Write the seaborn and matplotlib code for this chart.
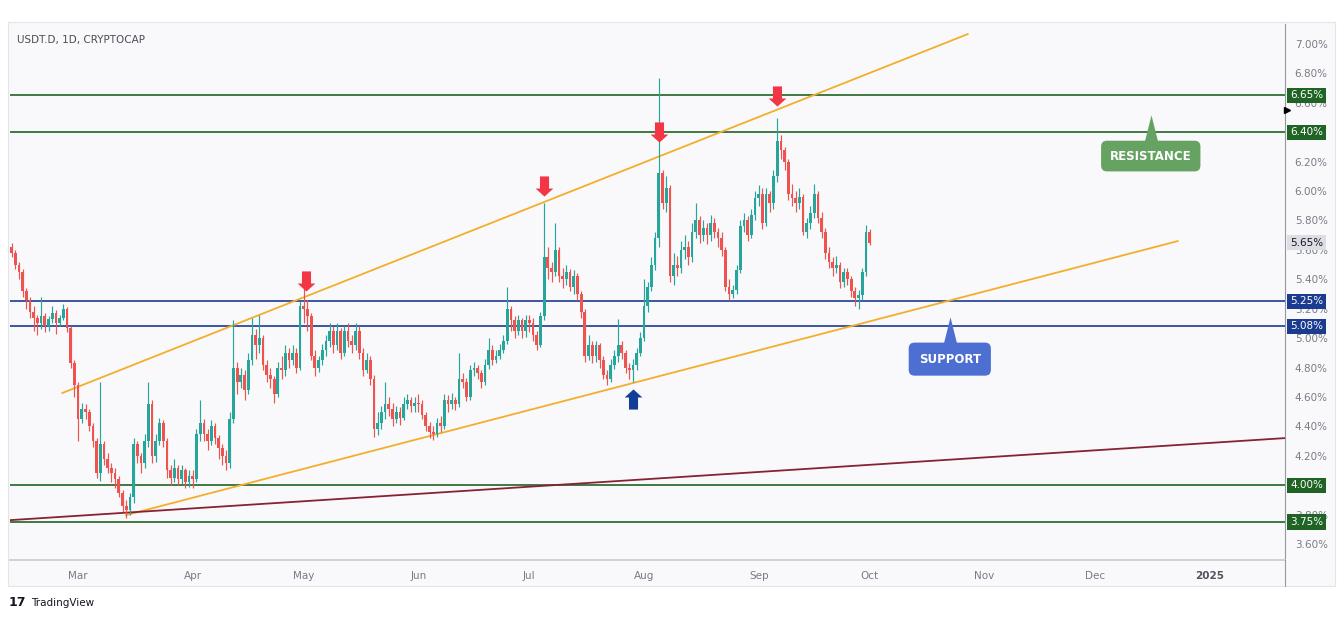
import numpy as np
import pandas as pd
import matplotlib
matplotlib.use("Agg")
import matplotlib.pyplot as plt
from matplotlib.path import Path
from matplotlib.patches import Rectangle
from matplotlib.transforms import blended_transform_factory
import seaborn as sns

# ---------------- data ----------------
start_date = "2024-02-12"
first_open = 5.62

closes = [
    # Feb 12-29
    5.58, 5.50, 5.45, 5.32, 5.26, 5.18, 5.14, 5.10, 5.15, 5.08, 5.13, 5.17, 5.10, 5.14, 5.20, 5.07, 4.83, 4.68,
    # Mar
    4.45, 4.52, 4.50, 4.40, 4.30, 4.08, 4.28, 4.18, 4.12, 4.08, 4.04, 3.95, 3.86, 3.83, 3.92, 4.28, 4.20, 4.15,
    4.30, 4.55, 4.20, 4.30, 4.42, 4.30, 4.10, 4.05, 4.12, 4.04, 4.10, 4.02, 4.06,
    # Apr
    4.04, 4.35, 4.42, 4.35, 4.30, 4.40, 4.32, 4.25, 4.20, 4.15, 4.45, 4.80, 4.70, 4.75, 4.65, 4.85, 5.02, 4.95,
    5.00, 4.82, 4.75, 4.72, 4.62, 4.80, 4.78, 4.90, 4.85, 4.90, 4.80, 5.22,
    # May
    5.20, 5.15, 4.88, 4.80, 4.85, 4.92, 4.98, 5.05, 4.95, 5.05, 4.90, 5.05, 4.98, 4.95, 5.05, 4.90, 4.78, 4.85,
    4.72, 4.38, 4.42, 4.50, 4.55, 4.52, 4.45, 4.50, 4.46, 4.55, 4.58, 4.54, 4.56,
    # Jun
    4.55, 4.48, 4.40, 4.36, 4.35, 4.42, 4.40, 4.58, 4.55, 4.58, 4.55, 4.72, 4.70, 4.60, 4.78, 4.80, 4.76, 4.70,
    4.82, 4.92, 4.85, 4.88, 4.92, 4.98, 5.20, 5.12, 5.05, 5.12, 5.05, 5.12,
    # Jul
    5.10, 5.02, 4.95, 5.15, 5.55, 5.48, 5.45, 5.60, 5.42, 5.40, 5.45, 5.35, 5.42, 5.30, 5.18, 4.88, 4.95, 4.88,
    4.95, 4.85, 4.75, 4.72, 4.82, 4.88, 4.95, 4.90, 4.80, 4.78, 4.82, 4.90, 5.00,
    # Aug
    5.22, 5.35, 5.50, 5.68, 6.12, 5.92, 6.02, 5.42, 5.50, 5.48, 5.60, 5.62, 5.55, 5.72, 5.80, 5.70, 5.75, 5.70,
    5.78, 5.72, 5.68, 5.60, 5.35, 5.30, 5.33, 5.46, 5.76, 5.80, 5.70, 5.84, 5.95,
    # Sep
    5.98, 5.78, 5.98, 5.92, 6.10, 6.34, 6.28, 6.20, 5.98, 5.95, 5.92, 5.96, 5.72, 5.78, 5.85, 5.98, 5.82, 5.72,
    5.58, 5.52, 5.48, 5.50, 5.38, 5.45, 5.40, 5.32, 5.27, 5.29, 5.45, 5.72,
    # Oct 1
    5.65,
]

highs = [
    5.65, 5.60, 5.52, 5.47, 5.34, 5.28, 5.22, 5.16, 5.28, 5.17, 5.15, 5.22, 5.19, 5.16, 5.23, 5.21, 5.08, 4.85,
    4.70, 4.56, 4.55, 4.52, 4.42, 4.32, 4.70, 4.30, 4.22, 4.15, 4.12, 4.06, 3.97, 3.90, 3.95, 4.32, 4.30, 4.22,
    4.35, 4.70, 4.58, 4.35, 4.46, 4.44, 4.32, 4.14, 4.18, 4.14, 4.14, 4.12, 4.10,
    4.10, 4.38, 4.58, 4.45, 4.38, 4.44, 4.42, 4.34, 4.28, 4.24, 4.50, 5.12, 4.84, 4.80, 4.78, 4.90, 5.14, 5.06,
    5.16, 5.02, 4.85, 4.80, 4.74, 4.84, 4.88, 4.95, 4.93, 4.95, 4.93, 5.25,
    5.35, 5.26, 5.17, 4.92, 4.88, 4.96, 5.02, 5.10, 5.08, 5.10, 5.07, 5.08, 5.10, 5.02, 5.10, 5.08, 4.93, 4.90,
    4.88, 4.75, 4.50, 4.54, 4.70, 4.60, 4.56, 4.54, 4.53, 4.60, 4.62, 4.60, 4.60,
    4.62, 4.58, 4.50, 4.43, 4.40, 4.46, 4.47, 4.62, 4.61, 4.63, 4.60, 4.90, 4.76, 4.73, 4.82, 4.84, 4.82, 4.78,
    4.86, 5.00, 4.95, 4.92, 4.96, 5.02, 5.35, 5.22, 5.15, 5.16, 5.14, 5.16,
    5.16, 5.14, 5.05, 5.18, 5.92, 5.62, 5.52, 5.78, 5.62, 5.48, 5.50, 5.47, 5.46, 5.44, 5.32, 5.20, 5.02, 4.98,
    4.98, 4.97, 4.88, 4.78, 4.86, 4.92, 5.13, 4.98, 4.92, 4.83, 4.86, 4.93, 5.04,
    5.40, 5.38, 5.55, 5.72, 6.77, 6.14, 6.10, 6.04, 5.58, 5.56, 5.66, 5.70, 5.66, 5.78, 5.92, 5.83, 5.80, 5.78,
    5.84, 5.82, 5.75, 5.72, 5.62, 5.40, 5.36, 5.50, 5.80, 5.85, 5.83, 5.88, 6.00,
    6.04, 6.02, 6.02, 6.00, 6.14, 6.50, 6.38, 6.30, 6.22, 6.05, 6.00, 6.02, 5.98, 5.82, 5.90, 6.05, 6.00, 5.86,
    5.75, 5.62, 5.55, 5.56, 5.52, 5.48, 5.48, 5.42, 5.35, 5.33, 5.48, 5.77,
    5.74,
]

lows = [
    5.55, 5.47, 5.40, 5.28, 5.20, 5.14, 5.05, 5.02, 5.06, 5.04, 5.05, 5.10, 5.03, 5.08, 5.12, 5.04, 4.80, 4.60,
    4.30, 4.42, 4.45, 4.37, 4.26, 4.05, 4.03, 4.14, 4.08, 4.02, 3.98, 3.92, 3.82, 3.78, 3.80, 3.88, 4.15, 4.08,
    4.12, 4.26, 4.15, 4.16, 4.27, 4.26, 4.05, 4.00, 4.02, 4.00, 4.01, 3.98, 3.99,
    3.98, 4.02, 4.30, 4.30, 4.24, 4.27, 4.28, 4.18, 4.14, 4.10, 4.12, 4.42, 4.62, 4.66, 4.58, 4.62, 4.82, 4.86,
    4.90, 4.78, 4.70, 4.66, 4.56, 4.60, 4.72, 4.74, 4.80, 4.82, 4.76, 4.78,
    5.10, 5.05, 4.85, 4.74, 4.77, 4.82, 4.88, 4.94, 4.90, 4.92, 4.86, 4.88, 4.94, 4.90, 4.92, 4.86, 4.74, 4.76,
    4.68, 4.33, 4.34, 4.38, 4.45, 4.47, 4.40, 4.42, 4.41, 4.44, 4.52, 4.50, 4.50,
    4.50, 4.45, 4.37, 4.32, 4.31, 4.33, 4.36, 4.38, 4.50, 4.52, 4.51, 4.53, 4.66, 4.57, 4.58, 4.74, 4.72, 4.66,
    4.68, 4.79, 4.82, 4.83, 4.86, 4.90, 4.96, 5.05, 5.00, 5.02, 5.00, 5.01,
    5.04, 4.98, 4.92, 4.94, 5.12, 5.40, 5.38, 5.42, 5.38, 5.34, 5.36, 5.32, 5.30, 5.26, 5.14, 4.84, 4.85, 4.83,
    4.84, 4.80, 4.72, 4.68, 4.70, 4.79, 4.84, 4.86, 4.76, 4.72, 4.70, 4.78, 4.88,
    4.98, 5.18, 5.32, 5.46, 5.62, 5.88, 5.86, 5.38, 5.36, 5.42, 5.44, 5.54, 5.50, 5.52, 5.68, 5.65, 5.66, 5.64,
    5.66, 5.68, 5.62, 5.56, 5.32, 5.26, 5.27, 5.30, 5.44, 5.72, 5.66, 5.68, 5.80,
    5.90, 5.74, 5.76, 5.86, 5.88, 6.06, 6.22, 6.14, 5.94, 5.90, 5.86, 5.88, 5.70, 5.68, 5.74, 5.82, 5.78, 5.68,
    5.54, 5.48, 5.42, 5.44, 5.34, 5.35, 5.36, 5.28, 5.22, 5.20, 5.26, 5.42,
    5.63,
]

resistance_levels = [6.65, 6.40, 4.00, 3.75]
support_levels = [5.25, 5.08]
last_price = 5.65

price_ticks = [3.60, 3.80, 4.00, 4.20, 4.40, 4.60, 4.80, 5.00, 5.20, 5.40, 5.60, 5.80, 6.00, 6.20, 6.40, 6.60, 6.80, 7.00]
month_ticks = ["2024-03-01 00:00", "2024-04-01 00:00", "2024-05-01 00:00", "2024-06-01 00:00", "2024-07-01 00:00",
               "2024-08-01 00:00", "2024-09-01 00:00", "2024-10-01 00:00", "2024-11-01 00:00", "2024-12-01 00:00",
               "2025-01-01 00:00"]
month_labels = ["Mar", "Apr", "May", "Jun", "Jul", "Aug", "Sep", "Oct", "Nov", "Dec", "2025"]

upper_trend_dates = ["2024-02-25 16:00", "2024-10-27 14:00"]
upper_trend_values = [4.626, 7.068]
lower_trend_dates = ["2024-03-13 22:00", "2024-12-23 08:00"]
lower_trend_values = [3.796, 5.66]
long_trend_dates = ["2024-02-11 14:00", "2025-01-21 07:00"]
long_trend_values = [3.762, 4.32]

red_arrow_dates = ["2024-05-01 12:00", "2024-07-05 00:00", "2024-08-05 00:00", "2024-09-06 00:00"]
red_arrow_values = [5.39, 6.035, 6.40, 6.648]
blue_arrow_dates = ["2024-07-29 00:00"]
blue_arrow_values = [4.585]

# ---------------- style ----------------
sns.set_theme(style="white")
plt.rcParams["font.family"] = ["DejaVu Sans"]

UP = "#26a69a"
DOWN = "#ef5350"
GREEN_LVL = "#1f6424"
BLUE_LVL = "#1a3b8f"
GOLD = "#f3ae2b"
MAROON = "#872234"
TXT = "#787b86"


def to_dt(lst):
    return pd.to_datetime(lst, format="%Y-%m-%d %H:%M")


W, H = 1343, 619
fig = plt.figure(figsize=(W / 100, H / 100), dpi=100)
fig.patch.set_facecolor("white")

# chart frame background (behind the axes)
frame = Rectangle((8 / W, 1 - 586 / H), (1335 - 8) / W, (586 - 22) / H, transform=fig.transFigure,
                  facecolor="#f9f9fb", edgecolor="#e3e5ea", linewidth=0.8, zorder=-5)
fig.patches.append(frame)

ax = fig.add_axes([10 / W, 1 - 560 / H, 1275 / W, 536 / H])
ax.set_facecolor("#f9f9fb")
ax.set_zorder(1)

df = pd.DataFrame({
    "date": pd.date_range(start_date, periods=len(closes), freq="D"),
    "close": closes, "high": highs, "low": lows,
})
df["open"] = [first_open] + closes[:-1]
df["top"] = df[["open", "close"]].max(axis=1)
df["bot"] = df[["open", "close"]].min(axis=1)
df["high"] = np.maximum(df["high"], df["top"])
df["low"] = np.minimum(df["low"], df["bot"])
df["color"] = np.where(df["close"] >= df["open"], UP, DOWN)

# levels
for lv in resistance_levels:
    ax.axhline(lv, color=GREEN_LVL, lw=1.2, zorder=2)
for lv in support_levels:
    ax.axhline(lv, color=BLUE_LVL, lw=1.2, zorder=2)

# trend lines (seaborn)
for dts, vals, col in [(upper_trend_dates, upper_trend_values, GOLD),
                       (lower_trend_dates, lower_trend_values, GOLD),
                       (long_trend_dates, long_trend_values, MAROON)]:
    tdf = pd.DataFrame({"date": to_dt(dts), "v": vals})
    sns.lineplot(data=tdf, x="date", y="v", ax=ax, color=col, lw=1.3, zorder=3)

# candles
ax.vlines(df["date"], df["low"], df["high"], colors=df["color"], lw=0.85, zorder=4)
ax.bar(df["date"], (df["top"] - df["bot"]).clip(lower=0.006), bottom=df["bot"], width=0.74,
       color=df["color"], edgecolor="none", zorder=5)

# arrows (block arrow markers)
down_verts = [(-0.45, 1.0), (0.45, 1.0), (0.45, -0.2), (0.88, -0.2), (0.0, -1.0),
              (-0.88, -0.2), (-0.45, -0.2), (-0.45, 1.0)]
codes = [Path.MOVETO] + [Path.LINETO] * 6 + [Path.CLOSEPOLY]
down_arrow = Path(down_verts, codes)
up_arrow = Path([(x, -y) for x, y in down_verts], codes)
ax.plot(to_dt(red_arrow_dates), red_arrow_values, ls="none", marker=down_arrow,
        markersize=14.5, color="#f23645", mec="none", zorder=7)
ax.plot(to_dt(blue_arrow_dates), blue_arrow_values, ls="none", marker=up_arrow,
        markersize=14.5, color="#113f96", mec="none", zorder=7)

# callouts
tri = Path([(-0.5, -1.0), (0.5, -1.0), (0.0, 1.0), (-0.5, -1.0)],
           [Path.MOVETO, Path.LINETO, Path.LINETO, Path.CLOSEPOLY])
res_x = to_dt(["2024-12-16 00:00"])[0]
sup_x = to_dt(["2024-10-22 16:00"])[0]
ax.plot([res_x], [6.43], ls="none", marker=tri, markersize=19, color="#66a262", mec="none", zorder=7)
ax.text(res_x, 6.238, "RESISTANCE", ha="center", va="center", fontsize=8.5,
        fontweight="bold", color="white", zorder=8,
        bbox=dict(boxstyle="round,pad=0.75,rounding_size=0.5", fc="#66a262", ec="none"))
ax.plot([sup_x], [5.055], ls="none", marker=tri, markersize=19, color="#4e6fd2", mec="none", zorder=7)
ax.text(sup_x, 4.857, "SUPPORT", ha="center", va="center", fontsize=8.5,
        fontweight="bold", color="white", zorder=8,
        bbox=dict(boxstyle="round,pad=0.85,rounding_size=0.5", fc="#4e6fd2", ec="none"))

# axes limits
xl = to_dt(["2024-02-11 14:00", "2025-01-21 07:00"])
ax.set_xlim(xl[0], xl[1])
ax.set_ylim(3.491, 7.136)
ax.set_xlabel("")
ax.set_ylabel("")

# y axis on right (labels hidden where a level box sits on the same value)
boxed = set(resistance_levels + support_levels)
ax.yaxis.tick_right()
ax.set_yticks(price_ticks)
ax.set_yticklabels(["" if v in boxed else f"{v:.2f}%" for v in price_ticks])
ax.tick_params(axis="y", length=0, pad=7, labelsize=7.5, colors=TXT)

# x axis
ax.set_xticks(to_dt(month_ticks))
ax.set_xticklabels(month_labels)
ax.tick_params(axis="x", length=0, pad=8, labelsize=7.5, colors=TXT)
for lab in ax.get_xticklabels():
    if lab.get_text() == "2025":
        lab.set_fontweight("bold")
        lab.set_color("#50535e")

for s in ["top", "left"]:
    ax.spines[s].set_visible(False)
ax.spines["right"].set_color("#9598a1")
ax.spines["right"].set_linewidth(0.8)
ax.spines["bottom"].set_color("#c9cbd1")
ax.spines["bottom"].set_linewidth(1.2)

# price labels on the right
tr = blended_transform_factory(ax.transAxes, ax.transData)
for lv in resistance_levels:
    ax.text(1.0040, lv, f"{lv:.2f}%", transform=tr, ha="left", va="center", fontsize=7.5,
            color="white", zorder=10, clip_on=False,
            bbox=dict(boxstyle="square,pad=0.25", fc=GREEN_LVL, ec="none"))
for lv in support_levels:
    ax.text(1.0040, lv, f"{lv:.2f}%", transform=tr, ha="left", va="center", fontsize=7.5,
            color="white", zorder=10, clip_on=False,
            bbox=dict(boxstyle="square,pad=0.25", fc=BLUE_LVL, ec="none"))
ax.text(1.0040, last_price, f"{last_price:.2f}%", transform=tr, ha="left", va="center", fontsize=7.5,
        color="#131722", zorder=10, clip_on=False,
        bbox=dict(boxstyle="square,pad=0.25", fc="#dcdee3", ec="none"))
ax.plot([1.0016], [6.55], transform=tr, marker=">", color="black", markersize=5, clip_on=False, zorder=10)

# vertical separator through time strip
fig.add_artist(plt.Line2D([1285 / W, 1285 / W], [1 - 586 / H, 1 - 560 / H], color="#9598a1", lw=0.8))

# title + branding
fig.text(17 / W, 1 - 40 / H, "USDT.D, 1D, CRYPTOCAP", fontsize=7.5, color="#4a4d57", va="center", zorder=5)
fig.text(9 / W, 1 - 603 / H, "17", fontsize=9, fontweight="bold", color="#131722", va="center")
fig.text(31 / W, 1 - 603 / H, "TradingView", fontsize=7.5, color="#131722", va="center")

fig.savefig("out.png", dpi=100, facecolor="white")
